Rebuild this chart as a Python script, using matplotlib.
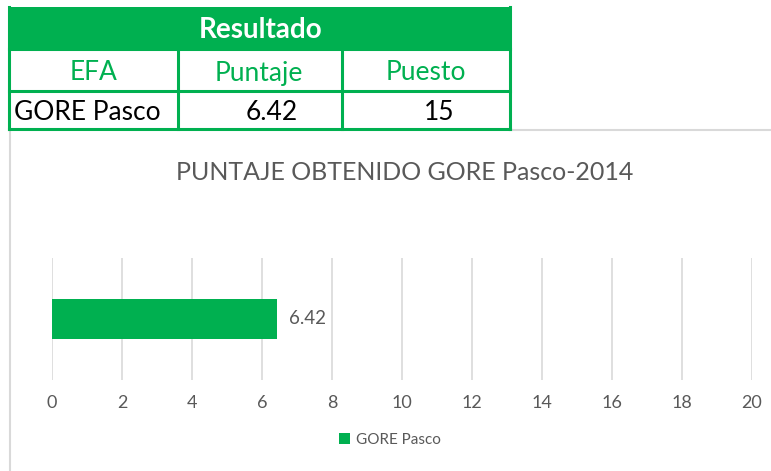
import matplotlib
matplotlib.use("Agg")
import matplotlib.pyplot as plt
from matplotlib.lines import Line2D
from matplotlib.patches import Rectangle

# data
efa_names = ["GORE Pasco"]
puntajes = [6.42]
puestos = [15]
table_title = "Resultado"
table_cols = ["EFA", "Puntaje", "Puesto"]
chart_title = "PUNTAJE OBTENIDO GORE Pasco-2014"
x_ticks = [0, 2, 4, 6, 8, 10, 12, 14, 16, 18, 20]

GREEN = "#00B050"
GRAY_TXT = "#595959"
GRID = "#D9D9D9"

plt.rcParams["font.family"] = ["Lato", "DejaVu Sans"]

W, H = 771, 471
fig = plt.figure(figsize=(W / 100, H / 100), dpi=100)


def fx(px):
    return px / W


def fy(py):
    return 1 - py / H


# chart frame (gray border, partly hidden behind the table)
fig.add_artist(Line2D([fx(10), fx(10)], [fy(130), fy(471)], color=GRID, lw=1.5))
fig.add_artist(Line2D([fx(510), fx(771)], [fy(130), fy(130)], color=GRID, lw=1.5))

# --- table on top ---
col_x = [9, 178, 342, 510]
row_y = [7, 49, 91, 129]
fig.add_artist(Rectangle((fx(col_x[0]), fy(row_y[1])), fx(col_x[3] - col_x[0]),
                         (row_y[1] - row_y[0]) / H, color=GREEN, lw=0))
for y in row_y[1:]:
    fig.add_artist(Line2D([fx(col_x[0]), fx(col_x[3])], [fy(y), fy(y)], color=GREEN, lw=2.2))
for x in col_x:
    top = row_y[0] if x in (col_x[0], col_x[3]) else row_y[1]
    fig.add_artist(Line2D([fx(x), fx(x)], [fy(top), fy(row_y[3])], color=GREEN, lw=2.2))

fig.text(fx(261), fy(30), table_title, color="white", fontsize=20, fontweight="bold",
         ha="center", va="center")
for cx, lab in zip([94, 259, 426], table_cols):
    fig.text(fx(cx), fy(73), lab, color=GREEN, fontsize=19, ha="center", va="center")
fig.text(fx(14), fy(113), efa_names[0], color="black", fontsize=19, ha="left", va="center")
fig.text(fx(272), fy(113), f"{puntajes[0]:.2f}", color="black", fontsize=19, ha="center", va="center")
fig.text(fx(439), fy(113), str(puestos[0]), color="black", fontsize=19, ha="center", va="center")

# --- bar chart ---
fig.text(fx(405), fy(173), chart_title, color=GRAY_TXT, fontsize=18, ha="center", va="center")

ax = fig.add_axes([fx(52), fy(380), fx(752 - 52), (380 - 258) / H])
bars = ax.barh(efa_names, puntajes, height=0.67, color=GREEN, label=efa_names[0], zorder=3)
ax.set_xlim(0, 20)
ax.set_ylim(-1, 1)
ax.set_xticks(x_ticks)
ax.set_yticks([])
ax.grid(axis="x", color=GRID, lw=1.2)
for s in ax.spines.values():
    s.set_visible(False)
ax.tick_params(axis="x", length=0, pad=11, labelsize=13, labelcolor=GRAY_TXT)
ax.bar_label(bars, labels=[f"{v:.2f}" for v in puntajes], padding=9, fontsize=13.5, color=GRAY_TXT)

leg = fig.legend(handles=[bars], labels=efa_names, loc="center", bbox_to_anchor=(fx(390), fy(440)),
                 frameon=False, fontsize=11, handlelength=0.7, handleheight=0.7, handletextpad=0.4,
                 labelcolor=GRAY_TXT)

fig.savefig("out.png", dpi=100)
